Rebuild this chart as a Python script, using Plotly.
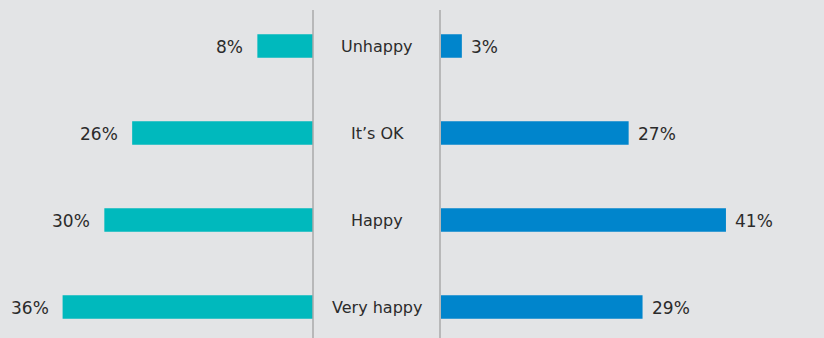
import plotly.graph_objects as go

categories = ["Unhappy", "It’s OK", "Happy", "Very happy"]
left_values = [8, 26, 30, 36]
right_values = [3, 27, 41, 29]
left_labels = ["8%", "26%", "30%", "36%"]
right_labels = ["3%", "27%", "41%", "29%"]

W, H = 824, 338
BG = "#e3e4e6"
TEAL = "#00b9bd"
BLUE = "#0085cc"
FONT = "DejaVu Sans"
TXT = "#2b2b2b"
pos = list(range(len(categories)))

fig = go.Figure()
fig.add_trace(go.Bar(
    y=pos, x=left_values, orientation="h", xaxis="x", yaxis="y",
    marker=dict(color=TEAL, line=dict(width=0)), width=0.27, hoverinfo="skip",
))
fig.add_trace(go.Bar(
    y=pos, x=right_values, orientation="h", xaxis="x2", yaxis="y",
    marker=dict(color=BLUE, line=dict(width=0)), width=0.27, hoverinfo="skip",
))

for i, (v, t) in enumerate(zip(left_values, left_labels)):
    fig.add_annotation(x=v, xref="x", y=i, yref="y", text=t, showarrow=False,
                       xanchor="right", yanchor="middle", xshift=-12, yshift=-1,
                       font=dict(size=17, color=TXT, family=FONT))
for i, (v, t) in enumerate(zip(right_values, right_labels)):
    fig.add_annotation(x=v, xref="x2", y=i, yref="y", text=t, showarrow=False,
                       xanchor="left", yanchor="middle", xshift=7, yshift=-1,
                       font=dict(size=17, color=TXT, family=FONT))

for i, c in enumerate(categories):
    fig.add_annotation(x=377 / W, xref="paper", y=i, yref="y", text=c,
                       showarrow=False, xanchor="center", yanchor="middle",
                       font=dict(size=16, color=TXT, family=FONT))

for px in (313, 440):
    fig.add_shape(type="line", xref="paper", yref="paper",
                  x0=px / W, x1=px / W, y0=0, y1=1 - 10 / H,
                  line=dict(color="#aaaaaa", width=1.5))

pitch = 87.0
top_center = 46.0
y_top = -top_center / pitch
y_bot = (H - top_center) / pitch

fig.update_layout(
    width=W, height=H, margin=dict(l=0, r=0, t=0, b=0),
    paper_bgcolor=BG, plot_bgcolor=BG, showlegend=False, barmode="overlay",
    xaxis=dict(domain=[0, 313 / W], range=[45, 0], visible=False, fixedrange=True),
    xaxis2=dict(domain=[441 / W, 1], range=[0, 383 / 6.95], visible=False, fixedrange=True),
    yaxis=dict(range=[y_bot, y_top], visible=False, fixedrange=True),
    font=dict(family=FONT),
)

fig.write_html("out.html")
